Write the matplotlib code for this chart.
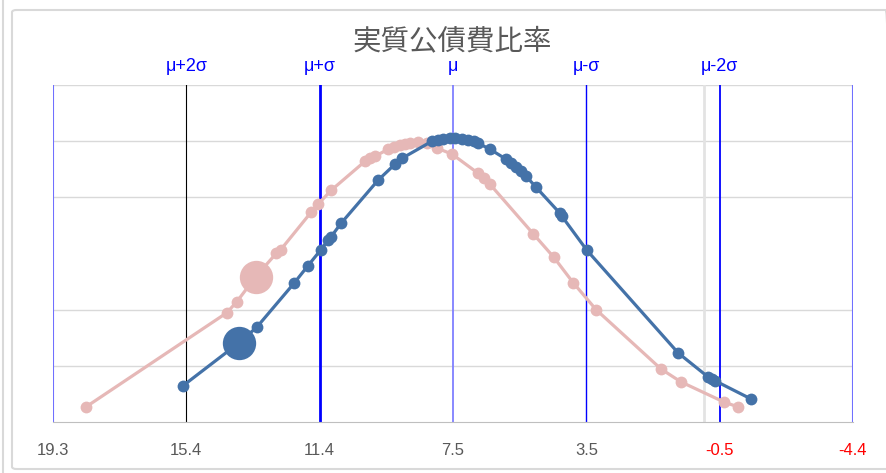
import numpy as np
import matplotlib.pyplot as plt
from matplotlib.patches import FancyBboxPatch
from matplotlib.lines import Line2D

# distribution parameters and axis labels
mu = 7.45
sigma = 3.95
tick_vals = [19.3, 15.35, 11.4, 7.45, 3.5, -0.45, -4.4]
tick_labels = ["19.3", "15.4", "11.4", "7.5", "3.5", "-0.5", "-4.4"]
sigma_labels = ["μ+2σ", "μ+σ", "μ", "μ-σ", "μ-2σ"]
sigma_k = [2, 1, 0, -1, -2]

# current year (blue) points
blue_x = [15.45, 13.79, 13.26, 12.16, 11.75, 11.36, 11.15, 11.06, 10.77, 9.67,
          9.17, 8.96, 8.07, 7.89, 7.75, 7.54, 7.39, 7.18, 7.00, 6.83,
          6.71, 6.35, 5.88, 5.73, 5.58, 5.43, 5.29, 4.99, 4.28, 4.22,
          3.48, 0.78, -0.10, -0.22, -0.31, -1.38]
blue_y = [0.0129, 0.0282, 0.0338, 0.0494, 0.0556, 0.0614, 0.0648, 0.0660, 0.0707, 0.0861,
          0.0918, 0.0939, 0.1000, 0.1005, 0.1008, 0.1010, 0.1010, 0.1007, 0.1003, 0.0999,
          0.0993, 0.0971, 0.0936, 0.0921, 0.0907, 0.0892, 0.0876, 0.0836, 0.0743, 0.0732,
          0.0611, 0.0246, 0.0161, 0.0154, 0.0147, 0.0082]
blue_hl = 1

# previous data (pink) points
pink_x = [18.32, 14.15, 13.85, 13.29, 12.69, 12.55, 11.66, 11.45, 11.06, 10.05,
          9.91, 9.76, 9.38, 9.20, 9.02, 8.87, 8.72, 8.49, 8.22, 7.92,
          7.48, 6.71, 6.53, 6.35, 5.08, 4.46, 3.89, 3.21, 1.29, 0.70,
          -0.58, -0.99]
pink_y = [0.0054, 0.0389, 0.0429, 0.0518, 0.0600, 0.0614, 0.0746, 0.0775, 0.0825, 0.0929,
          0.0939, 0.0946, 0.0971, 0.0979, 0.0986, 0.0989, 0.0993, 0.0996, 0.0993, 0.0975,
          0.0954, 0.0886, 0.0868, 0.0846, 0.0671, 0.0586, 0.0496, 0.0400, 0.0189, 0.0143,
          0.0071, 0.0054]
pink_hl = 3

BLUE = "#4472A8"
PINK = "#E6B8B7"
FONT = ["Liberation Sans", "DejaVu Sans"]

fig = plt.figure(figsize=(8.87, 4.73), dpi=100)
ax = fig.add_axes([53 / 887, 51 / 473, 800 / 887, 337 / 473])

# chart frame
fig.patches.append(FancyBboxPatch((12 / 887, 4 / 473), 0.99, 459 / 473,
                                  boxstyle="round,pad=0,rounding_size=0.005",
                                  transform=fig.transFigure, fill=False,
                                  edgecolor="#D9D9D9", linewidth=1.5))
fig.lines.append(Line2D([3 / 887, 3 / 887], [0, 1], transform=fig.transFigure,
                        color="#D9D9D9", linewidth=1.5))

ax.set_xlim(19.3, -4.4)
ax.set_ylim(0, 0.12)

# horizontal grid
for g in [0.02, 0.04, 0.08, 0.10, 0.12]:
    ax.axhline(g, color="#D9D9D9", linewidth=1, zorder=0)

# vertical reference lines
ax.axvline(0, color="#E3E3E3", linewidth=2, zorder=1)
ax.axvline(19.3, color="#7070FF", linewidth=1.5, zorder=1)
ax.axvline(-4.4, color="#7070FF", linewidth=1.5, zorder=1)
line_styles = {2: ("black", 0.8), 1: ("#0000FF", 2.0), 0: ("#7F7FFF", 1.3),
               -1: ("#0000FF", 1.0), -2: ("#0000FF", 1.3)}
for k, lab in zip(sigma_k, sigma_labels):
    c, lw = line_styles[k]
    xv = mu + k * sigma
    ax.axvline(xv, color=c, linewidth=lw, zorder=1)
    ax.text(xv, 0.1265, lab, color="#0000FF", ha="center", va="center",
            fontsize=13, family=FONT)

# curves
ax.plot(pink_x, pink_y, color=PINK, linewidth=2.3, marker="o", markersize=8.5,
        markeredgewidth=0, zorder=3)
ax.plot(blue_x, blue_y, color=BLUE, linewidth=2.3, marker="o", markersize=8.5,
        markeredgewidth=0, zorder=4)
ax.plot(pink_x[pink_hl], pink_y[pink_hl], "o", color=PINK, markersize=24,
        markeredgewidth=0, zorder=3)
ax.plot(blue_x[blue_hl], blue_y[blue_hl], "o", color=BLUE, markersize=24,
        markeredgewidth=0, zorder=4)

# axes cosmetics
for s in ["top", "left", "right"]:
    ax.spines[s].set_visible(False)
ax.spines["bottom"].set_color("#BFBFBF")
ax.set_yticks([])
ax.set_xticks(tick_vals)
ax.set_xticklabels(tick_labels, family=FONT, fontsize=12, color="#595959")
for lbl, txt in zip(ax.get_xticklabels(), tick_labels):
    if txt.startswith("-"):
        lbl.set_color("red")
ax.tick_params(axis="x", length=0, pad=15)

fig.text(0.51, 0.912, "実質公債費比率", ha="center", va="center", fontsize=20.5,
         color="#595959", family=["Noto Sans CJK JP", "DejaVu Sans"])

fig.savefig("out.png", dpi=100)
